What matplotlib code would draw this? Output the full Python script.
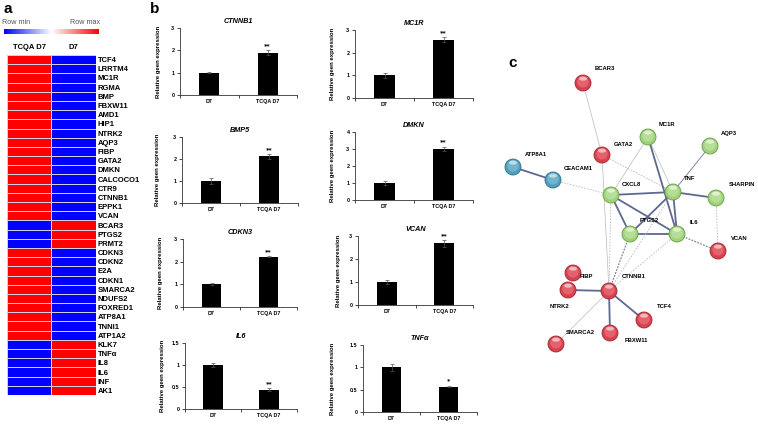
import numpy as np
import matplotlib
matplotlib.use('Agg')
import matplotlib.pyplot as plt
from matplotlib.colors import LinearSegmentedColormap
from matplotlib.patches import Circle, Ellipse

plt.rcParams['font.family'] = ['Liberation Sans', 'DejaVu Sans']

W, H = 758, 425

# ---- panel a: heatmap data ----
heat_genes = ['TCF4', 'LRRTM4', 'MC1R', 'RGMA', 'BMP', 'FBXW11', 'AMD1', 'HIP1',
              'NTRK2', 'AQP3', 'FIBP', 'GATA2', 'DMKN', 'CALCOCO1', 'CTR9',
              'CTNNB1', 'EPPK1', 'VCAN', 'BCAR3', 'PTGS2', 'PRMT2', 'CDKN3',
              'CDKN2', 'E2A', 'CDKN1', 'SMARCA2', 'NDUFS2', 'FOXRED1', 'ATP8A1',
              'TNNI1', 'ATP1A2', 'KLK7', 'TNFα', 'IL8', 'IL6', 'INF', 'AK1']
heat_cols = ['TCQA D7', 'D7']
tcqa_row = [1, 1, 1, 1, 1, 1, 1, 1, 1, 1, 1, 1, 1, 1, 1, 1, 1, 1,
            -1, -1, -1,
            1, 1, 1, 1, 1, 1, 1, 1, 1, 1,
            -1, -1, -1, -1, -1, -1]
d7_row = [-1, -1, -1, -1, -1, -1, -1, -1, -1, -1, -1, -1, -1, -1, -1, -1, -1, -1,
          1, 1, 1,
          -1, -1, -1, -1, -1, -1, -1, -1, -1, -1,
          1, 1, 1, 1, 1, 1]

# ---- panel b: qPCR bars ----
bar_genes = ['CTNNB1', 'MC1R', 'BMP5', 'DMKN', 'CDKN3', 'VCAN', 'IL6', 'TNFα']
bar_groups = ['D7', 'TCQA D7']
d7_mean = [1.0, 1.0, 1.0, 1.0, 1.0, 1.0, 1.0, 1.0]
d7_err = [0.02, 0.1, 0.13, 0.12, 0.04, 0.07, 0.04, 0.08]
tcqa_mean = [1.9, 2.58, 2.12, 3.02, 2.22, 2.68, 0.44, 0.57]
tcqa_err = [0.1, 0.1, 0.1, 0.12, 0.03, 0.14, 0.03, 0.02]
sig = ['**', '**', '**', '**', '**', '**', '**', '*']
y_ticks = [[0, 1, 2, 3], [0, 1, 2, 3], [0, 1, 2, 3], [0, 1, 2, 3, 4],
           [0, 1, 2, 3], [0, 1, 2, 3], [0, 0.5, 1, 1.5], [0, 0.5, 1, 1.5]]

# ---- panel c: interaction network ----
node_names = ['BCAR3', 'MC1R', 'AQP3', 'ATP8A1', 'GATA2', 'CEACAM1', 'TNF',
              'SHARPIN', 'CXCL8', 'PTGS2', 'IL6', 'VCAN', 'FIBP', 'NTRK2',
              'CTNNB1', 'TCF4', 'FBXW11', 'SMARCA2']
node_x = [583, 648, 710, 513, 602, 553, 673, 716, 611, 630, 677, 718, 573, 568,
          609, 644, 610, 556]
node_y = [83, 137, 146, 167, 155, 180, 192, 198, 195, 234, 234, 251, 273, 290,
          291, 320, 333, 344]
node_group = ['red', 'green', 'green', 'blue', 'red', 'blue', 'green', 'green',
              'green', 'green', 'green', 'red', 'red', 'red', 'red', 'red',
              'red', 'red']
label_x = [605, 667, 729, 536, 623, 578, 690, 742, 631, 649, 694, 739, 586, 559,
           634, 664, 636, 580]
label_y = [69, 125, 134, 154, 144, 169, 179, 185, 184, 220, 222, 239, 277, 307,
           277, 307, 340, 333]
edges = [('BCAR3', 'GATA2', 'thin'), ('GATA2', 'CTNNB1', 'thin'),
         ('GATA2', 'TNF', 'dash'), ('ATP8A1', 'CEACAM1', 'thick'),
         ('CEACAM1', 'CXCL8', 'dash'), ('MC1R', 'CXCL8', 'thin'),
         ('MC1R', 'TNF', 'thin'), ('MC1R', 'IL6', 'thick'),
         ('AQP3', 'TNF', 'mid'), ('TNF', 'SHARPIN', 'thick'),
         ('CXCL8', 'TNF', 'thick'), ('CXCL8', 'PTGS2', 'thick'),
         ('CXCL8', 'IL6', 'thick'), ('TNF', 'PTGS2', 'thick'),
         ('TNF', 'IL6', 'thick'), ('PTGS2', 'IL6', 'thick'),
         ('IL6', 'VCAN', 'dashdark'), ('SHARPIN', 'VCAN', 'dash'),
         ('CXCL8', 'CTNNB1', 'dash'), ('PTGS2', 'CTNNB1', 'dashdark'),
         ('IL6', 'CTNNB1', 'dash'), ('TNF', 'CTNNB1', 'dash'),
         ('CTNNB1', 'NTRK2', 'thick'), ('CTNNB1', 'TCF4', 'thick'),
         ('CTNNB1', 'FBXW11', 'thick'), ('CTNNB1', 'SMARCA2', 'thin')]

# axes boxes in pixels: left, right, top, bottom, ylabel x
bar_boxes = [(180, 297, 28, 95, 161), (355, 473, 30, 98, 335),
             (182, 298, 137, 203, 160), (355, 473, 132, 200, 335),
             (183, 297, 239, 307, 163), (358, 473, 236, 305, 341),
             (185, 297, 343, 409, 165), (363, 477, 345, 412, 335)]


def px_axes(fig, left, right, top, bottom):
    return fig.add_axes([left / W, 1 - bottom / H, (right - left) / W, (bottom - top) / H])


def draw_heatmap(fig, cmap):
    ax = px_axes(fig, 7, 95.5, 55, 395)
    mat = np.array([tcqa_row, d7_row]).T
    ax.pcolormesh(mat, cmap=cmap, vmin=-1, vmax=1, edgecolors='#cfcfe8', linewidth=0.5)
    ax.set_xlim(0, 2)
    ax.set_ylim(len(heat_genes), 0)
    ax.set_yticks(np.arange(len(heat_genes)) + 0.5)
    ax.set_yticklabels(heat_genes, fontsize=5.5, fontweight='bold')
    ax.yaxis.tick_right()
    ax.set_xticks([0.5, 1.5])
    ax.set_xticklabels(heat_cols, fontsize=5.5, fontweight='bold')
    ax.xaxis.tick_top()
    ax.tick_params(length=0, pad=1.5)
    ax.tick_params(axis='x', pad=3)
    for s in ax.spines.values():
        s.set_visible(False)

    cb = px_axes(fig, 4, 99, 29, 34)
    cb.imshow(np.linspace(0, 1, 256)[None, :], aspect='auto', cmap=cmap)
    cb.axis('off')
    fig.text(2 / W, 1 - 22 / H, 'Row min', fontsize=5.2, color='#555555', va='center', ha='left')
    fig.text(100 / W, 1 - 22 / H, 'Row max', fontsize=5.2, color='#555555', va='center', ha='right')


def draw_bar(ax, i):
    ymax = y_ticks[i][-1]
    x = [0, 1]
    vals = [d7_mean[i], tcqa_mean[i]]
    ax.bar(x, vals, width=0.34, color='black', zorder=2)
    ax.errorbar(x, vals, yerr=[d7_err[i], tcqa_err[i]], fmt='none', ecolor='#555555',
                elinewidth=0.5, capsize=1.3, capthick=0.5, zorder=3)
    ax.text(1, tcqa_mean[i] + tcqa_err[i] + ymax * 0.03, sig[i], ha='center', va='bottom',
            fontsize=4.6, fontweight='bold', family='DejaVu Sans')
    ax.set_xlim(-0.5, 1.5)
    ax.set_ylim(0, ymax)
    ax.set_yticks(y_ticks[i])
    ax.set_yticklabels(['%g' % t for t in y_ticks[i]], fontsize=3.9, fontweight='bold')
    ax.set_xticks(x)
    ax.set_xticklabels(bar_groups, fontsize=3.9, fontweight='bold')
    ax.set_xticks([-0.5, 0.5, 1.5], minor=True)
    ax.tick_params(axis='x', which='major', length=0, pad=3)
    ax.tick_params(axis='x', which='minor', length=2, width=0.5, direction='out')
    ax.tick_params(axis='y', length=2, width=0.5, pad=2)
    for s in ['top', 'right']:
        ax.spines[s].set_visible(False)
    for s in ['left', 'bottom']:
        ax.spines[s].set_linewidth(0.6)
        ax.spines[s].set_color('#333333')
    ax.set_title(bar_genes[i], fontsize=5.2, fontweight='bold', style='italic', pad=3.5)


def draw_network(fig):
    ax = px_axes(fig, 480, 758, 40, 425)
    ax.set_xlim(480, 758)
    ax.set_ylim(425, 40)
    ax.axis('off')
    pos = {n: (node_x[k], node_y[k]) for k, n in enumerate(node_names)}
    styles = {'thick': dict(color='#5f6890', lw=1.3, ls='-'),
              'mid': dict(color='#7d86a8', lw=0.7, ls='-'),
              'thin': dict(color='#b9b9b9', lw=0.5, ls='-'),
              'dash': dict(color='#bdbdbd', lw=0.6, ls=(0, (2, 1.5))),
              'dashdark': dict(color='#7f87a6', lw=0.9, ls=(0, (1.5, 1)))}
    for a, b, st in edges:
        ax.plot([pos[a][0], pos[b][0]], [pos[a][1], pos[b][1]], zorder=1, **styles[st])

    palette = {'red': ('#d8404e', '#9e2a36', '#f38c95'),
               'green': ('#9fd27a', '#6a9e47', '#d3eebb'),
               'blue': ('#4f9ebb', '#2d6f8c', '#9fd0e2')}
    r = 8
    for k, n in enumerate(node_names):
        base, edge, light = palette[node_group[k]]
        x, y = node_x[k], node_y[k]
        ax.add_patch(Circle((x, y), r, fc=base, ec=edge, lw=0.6, zorder=3))
        ax.add_patch(Circle((x, y - 1.2), r * 0.72, fc=light, ec='none', alpha=0.45, zorder=4))
        ax.add_patch(Ellipse((x, y - 4.3), 8, 4, fc='white', ec='none', alpha=0.55, zorder=5))
        ax.text(label_x[k], label_y[k], n, fontsize=4.2, fontweight='bold',
                ha='center', va='center', zorder=6)


fig = plt.figure(figsize=(W / 100, H / 100), dpi=100)
cmap = LinearSegmentedColormap.from_list('rowscale', ['#0000ff', '#ffffff', '#ff0000'])

draw_heatmap(fig, cmap)

for i, (l, r, t, b, lx) in enumerate(bar_boxes):
    ax = px_axes(fig, l, r, t, b)
    draw_bar(ax, i)
    ax.set_ylabel('Relative geen expression', fontsize=4.3, fontweight='bold')
    ax.yaxis.set_label_coords((lx - l) / (r - l), 0.5)

draw_network(fig)

fig.text(3 / W, 1 - 9 / H, 'a', fontsize=11, fontweight='bold', va='center', ha='left')
fig.text(150 / W, 1 - 9 / H, 'b', fontsize=11, fontweight='bold', va='center', ha='left')
fig.text(508 / W, 1 - 63 / H, 'c', fontsize=11, fontweight='bold', va='center', ha='left')

fig.savefig('out.png', dpi=100)
